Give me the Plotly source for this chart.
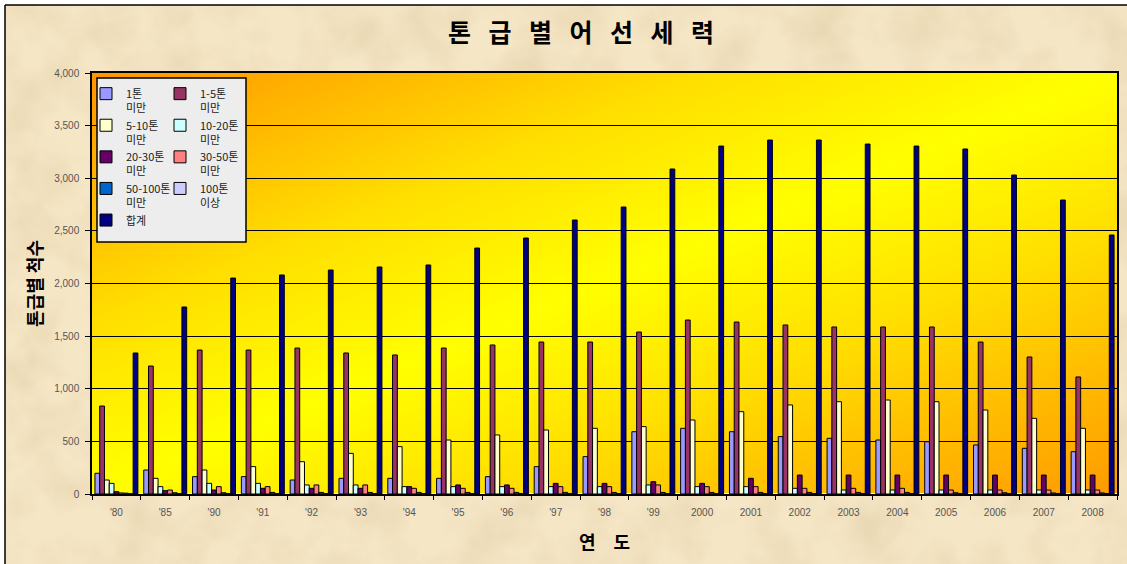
import base64
import plotly.graph_objects as go

# ---------------- data ----------------
years = ["'80", "'85", "'90", "'91", "'92", "'93", "'94", "'95", "'96", "'97", "'98", "'99",
         "2000", "2001", "2002", "2003", "2004", "2005", "2006", "2007", "2008"]
under_1 = [197, 228, 165, 165, 133, 149, 149, 149, 165, 260, 355, 592, 624, 592, 545, 529, 513, 497, 466, 434, 402]
t1_5 = [836, 1216, 1368, 1368, 1387, 1340, 1321, 1387, 1416, 1444, 1444, 1539, 1653, 1634, 1606, 1587, 1587, 1587, 1444, 1302, 1112]
t5_10 = [133, 149, 228, 260, 307, 386, 450, 513, 561, 608, 624, 640, 703, 782, 846, 877, 893, 877, 798, 719, 624]
t10_20 = [101, 70, 101, 101, 86, 86, 70, 70, 70, 70, 70, 86, 70, 70, 54, 38, 38, 38, 38, 38, 38]
t20_30 = [22, 32, 38, 54, 54, 54, 70, 86, 86, 101, 101, 117, 101, 149, 180, 180, 180, 180, 180, 180, 180]
t30_50 = [10, 38, 70, 70, 86, 86, 54, 54, 54, 70, 70, 86, 70, 70, 54, 54, 54, 38, 38, 38, 38]
t50_100 = [8, 12, 12, 15, 15, 15, 15, 15, 15, 15, 15, 15, 15, 15, 15, 15, 15, 12, 12, 10, 10]
over_100 = [3, 4, 4, 4, 4, 4, 4, 4, 4, 4, 4, 4, 4, 4, 4, 4, 4, 4, 4, 4, 4]
total = [1340, 1777, 2052, 2081, 2128, 2157, 2176, 2337, 2432, 2603, 2727, 3088, 3306, 3363, 3363, 3325, 3306, 3278, 3031, 2793, 2461]

series_names = ["1톤<br>미만", "1-5톤<br>미만", "5-10톤<br>미만", "10-20톤<br>미만", "20-30톤<br>미만",
                "30-50톤<br>미만", "50-100톤<br>미만", "100톤<br>이상", "합계"]
series_values = [under_1, t1_5, t5_10, t10_20, t20_30, t30_50, t50_100, over_100, total]
series_colors = ["#9999FF", "#993366", "#FFFFCC", "#CCFFFF", "#660066", "#FF8080", "#0066CC", "#CCCCFF", "#000080"]
series_legend = ["legend", "legend2", "legend", "legend2", "legend", "legend2", "legend", "legend2", "legend"]

# ---------------- geometry helpers (pixels -> paper) ----------------
W, H = 1127, 564
PL, PR, PT, PB = 92, 1117, 73, 494


def xp(px):
    return (px - PL) / (PR - PL)


def yp(py):
    return (PB - py) / (PB - PT)


def svg_uri(svg):
    return "data:image/svg+xml;base64," + base64.b64encode(svg.encode("utf-8")).decode("ascii")


paper_svg = f'''<svg xmlns="http://www.w3.org/2000/svg" width="{W}" height="{H}" viewBox="0 0 {W} {H}">
<filter id="n" x="0" y="0" width="100%" height="100%">
<feTurbulence type="fractalNoise" baseFrequency="0.02" numOctaves="4" seed="7"/>
<feColorMatrix type="matrix" values="0 0 0 0 0.70  0 0 0 0 0.56  0 0 0 0 0.32  0.8 0 0 0 -0.30"/>
</filter>
<rect width="{W}" height="{H}" fill="#FFFFFF"/>
<g transform="translate(5,5)">
<rect width="{W}" height="{H}" fill="#F5E6C6"/>
<rect width="{W}" height="{H}" filter="url(#n)"/>
</g>
</svg>'''

plot_svg = '''<svg xmlns="http://www.w3.org/2000/svg" width="1025" height="421" viewBox="0 0 1025 421" preserveAspectRatio="none">
<defs><linearGradient id="g" x1="0" y1="0" x2="1" y2="1">
<stop offset="0" stop-color="#FF9400"/>
<stop offset="0.3" stop-color="#FFDF00"/>
<stop offset="0.5" stop-color="#FFFF00"/>
<stop offset="0.68" stop-color="#FFE000"/>
<stop offset="1" stop-color="#FF9A00"/>
</linearGradient></defs>
<rect width="1025" height="421" fill="url(#g)"/>
</svg>'''

fig = go.Figure()
for name, vals, col, lg in zip(series_names, series_values, series_colors, series_legend):
    fig.add_trace(go.Bar(
        x=years, y=vals, name=name, legend=lg,
        marker=dict(color=col, line=dict(color="#000000", width=1)),
    ))

tick_font = dict(family="Liberation Sans, Arial, sans-serif", size=10, color="#555555")
legend_font = dict(family="Noto Sans CJK KR, sans-serif", size=11, color="#222222")

fig.update_layout(
    width=W, height=H, autosize=False,
    margin=dict(l=PL, r=W - PR, t=PT, b=H - PB, autoexpand=False),
    paper_bgcolor="#F5E6C6",
    plot_bgcolor="rgba(0,0,0,0)",
    barmode="group", bargap=0.12, bargroupgap=0,
    title=dict(
        text="톤\u2002\u2009급\u2002\u2009별\u2002\u2009어\u2002\u2009선\u2002\u2009세\u2002\u2009력",
        x=581 / W, xanchor="center", xref="container",
        y=1 - 33 / H, yanchor="middle", yref="container",
        font=dict(family="Noto Sans CJK KR, sans-serif", size=25, color="#000000", weight="bold"),
    ),
    xaxis=dict(
        type="category", tickson="boundaries", ticks="outside", ticklen=4, tickcolor="#000000",
        showgrid=False, showline=True, linecolor="#000000", linewidth=1.5, mirror=True,
        tickfont=tick_font, ticklabelstandoff=8, automargin=False,
        title=dict(text="연\u2003도", standoff=20,
                   font=dict(family="Noto Sans CJK KR, sans-serif", size=18, color="#000000", weight="bold")),
    ),
    yaxis=dict(
        range=[0, 4000], dtick=500, tickformat=",", ticks="outside", ticklen=5, tickcolor="#000000",
        showgrid=True, gridcolor="#000000", gridwidth=1.3,
        showline=True, linecolor="#000000", linewidth=1.5, mirror=True,
        tickfont=tick_font, ticklabelstandoff=4, automargin=False,
        title=dict(text="톤급별 척수", standoff=7,
                   font=dict(family="Noto Sans CJK KR, sans-serif", size=18, color="#000000", weight="bold")),
    ),
    legend=dict(
        x=xp(86), y=yp(80), xanchor="left", yanchor="top",
        bgcolor="rgba(0,0,0,0)", borderwidth=0, font=legend_font, valign="top",
        traceorder="normal",
    ),
    legend2=dict(
        x=xp(160), y=yp(80), xanchor="left", yanchor="top",
        bgcolor="rgba(0,0,0,0)", borderwidth=0, font=legend_font, valign="top",
        traceorder="normal",
    ),
    images=[
        dict(source=svg_uri(paper_svg), xref="paper", yref="paper",
             x=xp(0), y=yp(0), sizex=W / (PR - PL), sizey=H / (PB - PT),
             xanchor="left", yanchor="top", sizing="stretch", layer="below"),
        dict(source=svg_uri(plot_svg), xref="paper", yref="paper",
             x=0, y=1, sizex=1, sizey=1,
             xanchor="left", yanchor="top", sizing="stretch", layer="below"),
    ],
    shapes=[
        dict(type="rect", xref="paper", yref="paper", layer="above",
             x0=xp(97), x1=xp(246), y0=yp(242), y1=yp(78),
             fillcolor="#EDEDED", line=dict(color="#000000", width=1.5)),
        dict(type="line", xref="paper", yref="paper", layer="above",
             x0=xp(5), x1=xp(5), y0=yp(H + 5), y1=yp(5), line=dict(color="#000000", width=1.5)),
        dict(type="line", xref="paper", yref="paper", layer="above",
             x0=xp(5), x1=xp(W + 5), y0=yp(5), y1=yp(5), line=dict(color="#000000", width=1.5)),
    ],
)

fig.write_html(
    "out.html",
    config={"displayModeBar": False},
    post_script="document.body.style.margin='0';document.body.style.overflow='hidden';",
)
